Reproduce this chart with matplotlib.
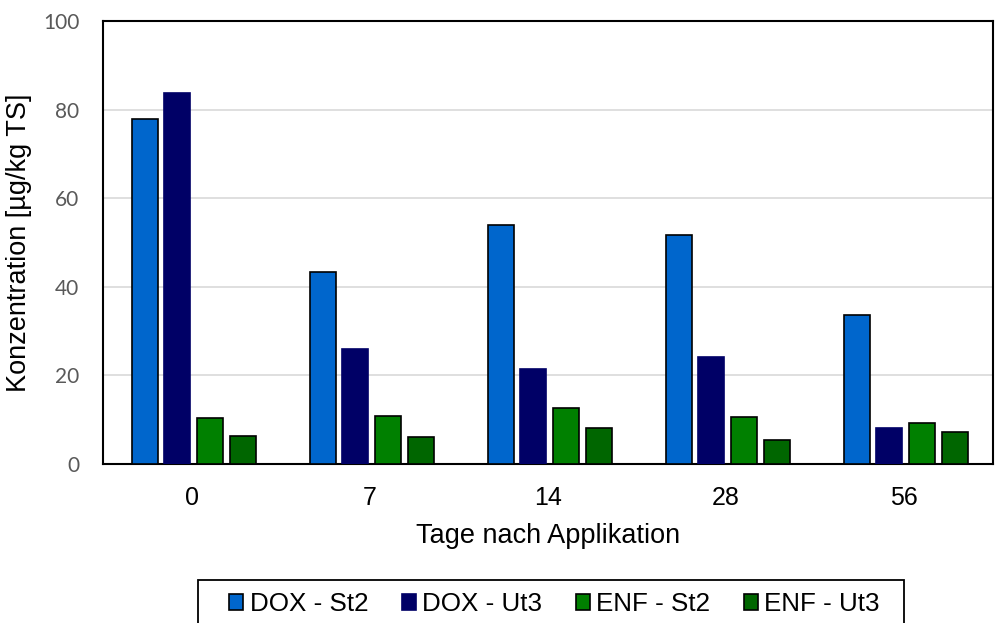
import matplotlib
matplotlib.use("Agg")
import matplotlib.pyplot as plt
from matplotlib.patches import Rectangle
import numpy as np

plt.rcParams['font.family'] = ['Liberation Sans', 'DejaVu Sans']

tage = ["0", "7", "14", "28", "56"]
dox_st2 = [77.9, 43.4, 53.9, 51.8, 33.6]
dox_ut3 = [83.8, 26.0, 21.5, 24.2, 8.1]
enf_st2 = [10.4, 10.8, 12.7, 10.6, 9.3]
enf_ut3 = [6.3, 6.2, 8.1, 5.4, 7.2]

serien = [("DOX - St2", dox_st2, "#0066CC", "black"),
          ("DOX - Ut3", dox_ut3, "#000066", "#000066"),
          ("ENF - St2", enf_st2, "#008000", "black"),
          ("ENF - Ut3", enf_ut3, "#006600", "black")]

W, H = 996, 623
fig = plt.figure(figsize=(W / 100, H / 100), dpi=100)
ax = fig.add_axes([0.1034, 0.2552, 0.8936, 0.7111])

x = np.arange(len(tage))
breite = 0.146
abstand = 0.184
for i, (name, werte, farbe, rand) in enumerate(serien):
    ax.bar(x + (i - 1.5) * abstand + 0.01, werte, width=breite, color=farbe,
           edgecolor=rand, linewidth=1.2, label=name, zorder=3)

ax.set_xlim(-0.5, len(tage) - 0.5)
ax.set_ylim(0, 100)
ax.set_yticks([0, 20, 40, 60, 80, 100])
ax.yaxis.grid(True, color="#D9D9D9", linewidth=1.2, zorder=0)
ax.set_xticks(x)
ax.set_xticklabels(tage)
ax.tick_params(axis="y", length=0, labelsize=15, labelcolor="#595959", pad=17)
for lbl in ax.get_yticklabels():
    lbl.set_fontfamily(["Lato", "DejaVu Sans"])
ax.tick_params(axis="x", length=0, labelsize=18, pad=16)
for s in ax.spines.values():
    s.set_linewidth(1.5)
    s.set_color("black")

ax.set_ylabel("Konzentration [µg/kg TS]", fontsize=19.5, labelpad=8)
ax.set_xlabel("Tage nach Applikation", fontsize=19.5, labelpad=9)

# Legendenrahmen (unten abgeschnitten wie im Original)
fig.patches.append(Rectangle((198 / W, -0.05), (904 - 198) / W, 0.05 + 1 - 580 / H,
                             transform=fig.transFigure, fill=False,
                             edgecolor="black", linewidth=1.3))
leg = fig.legend(loc="center left", bbox_to_anchor=(229 / W, 1 - 604 / H),
                 ncol=4, fontsize=18.7, frameon=False,
                 handlelength=0.55, handleheight=0.55,
                 handletextpad=0.25, columnspacing=1.28, borderpad=0,
                 borderaxespad=0)

fig.savefig("out.png", dpi=100)
